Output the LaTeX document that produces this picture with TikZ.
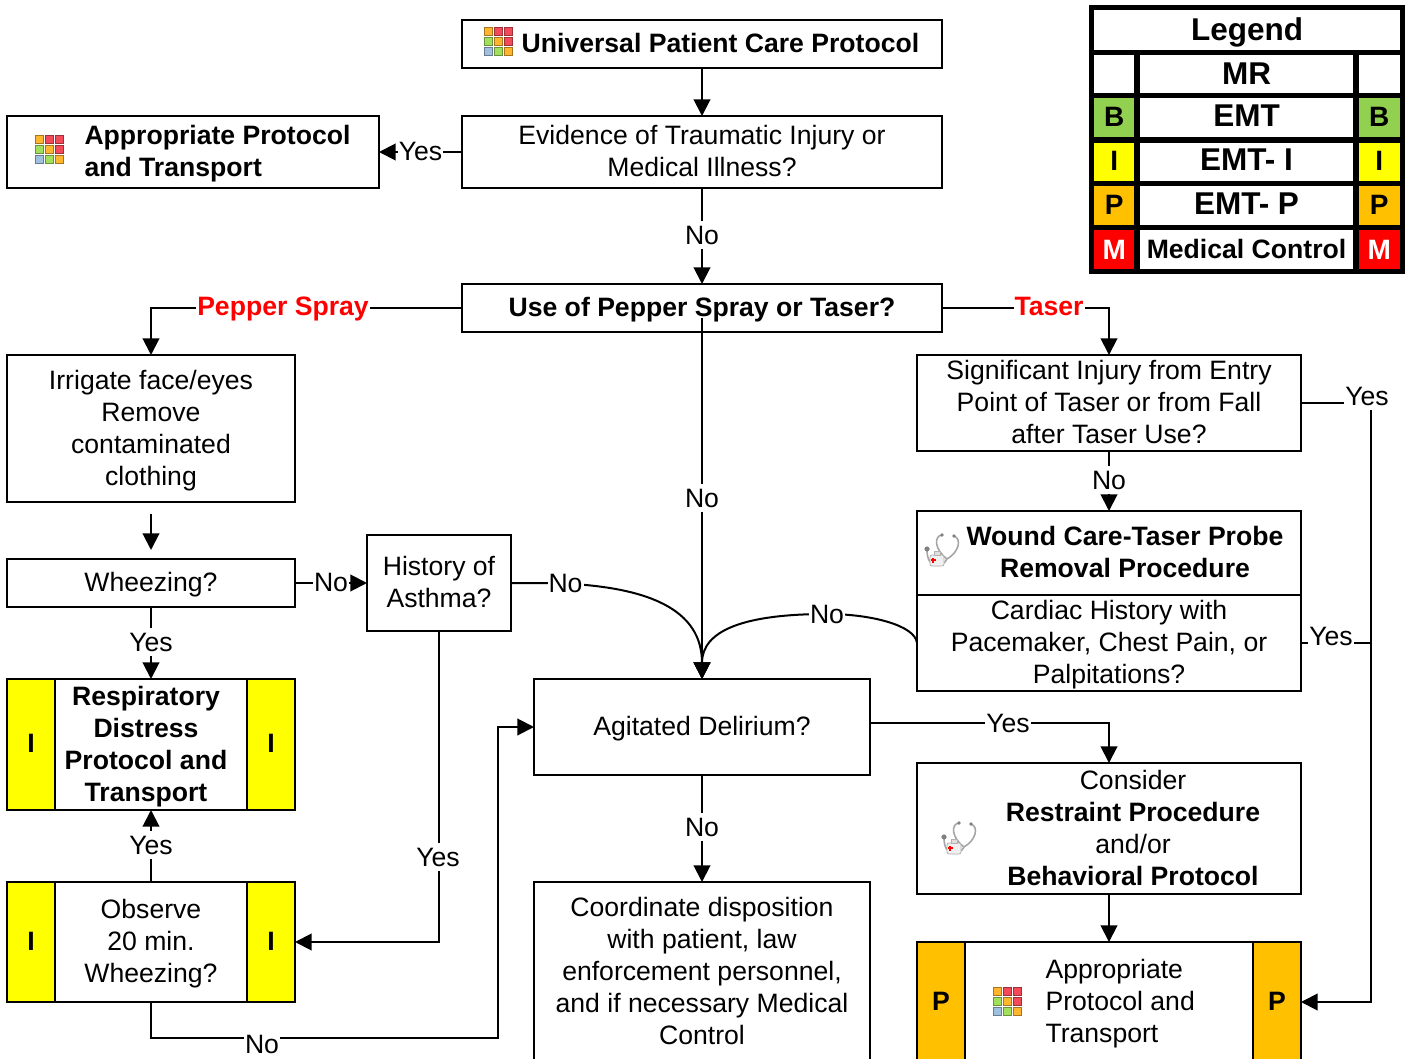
\documentclass[tikz,border=0pt]{standalone}
\usepackage{fontspec}
\setmainfont{Liberation Sans}
\usetikzlibrary{arrows.meta}
\tikzstyle{line} = [draw, -{Triangle[length=8.3pt,width=8.3pt]}]
\definecolor{tagB}{HTML}{92D050}
\definecolor{tagI}{HTML}{FFFF00}
\definecolor{tagP}{HTML}{FFC000}
\definecolor{tagM}{HTML}{FF0000}
\definecolor{iconO}{HTML}{FFB52E}
\definecolor{iconR}{HTML}{F24A58}
\definecolor{iconG}{HTML}{A2E05C}
\definecolor{iconB}{HTML}{A0C0E0}
\begin{document}
\begin{tikzpicture}[x=0.5pt, y=-0.5pt, line width=1pt,
				box/.style = {draw, inner sep=0pt, outer sep=0pt, align=center, text depth=1pt,
					font=\fontsize{13.3}{16}\selectfont},
				boxtext/.style = {inner sep=0pt, align=center, text depth=1pt,
					font=\fontsize{13.3}{16}\selectfont},
				boldtext/.style = {inner sep=0pt, align=center, text depth=1pt,
					font=\fontsize{13.3}{16}\selectfont\bfseries},
				tag/.style = {draw, inner sep=0pt, outer sep=0pt, minimum width=24pt, text depth=1pt,
					font=\fontsize{13.3}{16}\selectfont\bfseries},
				lab/.style = {fill=white, inner xsep=0.5pt, inner ysep=2.5pt,
					font=\fontsize{13.3}{16}\selectfont},
				redlab/.style = {lab, text=red, text depth=0pt, font=\fontsize{13.3}{16}\selectfont\bfseries},
				legcell/.style = {draw, line width=2.75pt, inner sep=0pt, outer sep=0pt,
					minimum height=22pt, font=\fontsize{15.75}{18}\selectfont\bfseries},
				gridicon/.pic = {
					\foreach \col/\row/\tint in {0/0/iconO, 1/0/iconR, 2/0/iconR,
						0/1/iconG, 1/1/iconO, 2/1/iconR,
						0/2/iconB, 1/2/iconG, 2/2/iconO}
						\draw[draw=\tint!65!black, fill=\tint, line width=0.5pt]
							(\col*10-14,\row*10-14) rectangle ++(8,8);
				},
				scopeicon/.pic = {
					% tubing
					\draw[gray!70, line width=0.8pt] (-1,-17) .. controls (-9,-16) and (-9,-3) .. (4,7);
					\draw[gray!70, line width=0.8pt] (11,-16) .. controls (19,-13) and (16,0) .. (4,7);
					\draw[gray!70, line width=0.8pt] (4,7) .. controls (0,16) and (-16,18) .. (-16,-2);
					\fill[gray] (-1,-17) circle (1.8);
					\fill[gray] (11,-16) circle (1.8);
					\fill[gray] (-16,-3) circle (2.6);
					% bottle
					\draw[gray!60, fill=gray!12, line width=0.4pt, rounded corners=1pt] (-13,3) rectangle (1,14);
					\draw[gray!60, fill=gray!25, line width=0.4pt] (-9,-1) rectangle (-3,3);
					\fill[red] (-12.5,7.2) rectangle (-7.5,8.8);
					\fill[red] (-10.8,5.5) rectangle (-9.2,10.5);
				}]

				\useasboundingbox (0,0) rectangle (1409,1059);

				% Top of the chart
				\node[box, minimum width=240pt, minimum height=24pt] (care) at (702,44) {};
				\pic at (498,42) {gridicon};
				\node[boldtext] (careText) at (720.5,44) {Universal Patient Care Protocol};
				\node[box, minimum width=240pt, minimum height=36pt] (evidence) at (702,152)
					{Evidence of Traumatic Injury or\\Medical Illness?};
				\node[box, minimum width=186pt, minimum height=36pt] (approp) at (193,152) {};
				\pic at (49,150) {gridicon};
				\node[boldtext, anchor=west, align=left] (appropText) at (83.5,152)
					{Appropriate Protocol\\and Transport};
				\node[box, minimum width=240pt, minimum height=24pt] (spray) at (702,308)
					{\bfseries Use of Pepper Spray or Taser?};

				% Left column
				\node[box, minimum width=144pt, minimum height=73.5pt] (irrigate) at (151,428.5)
					{Irrigate face/eyes\\Remove\\contaminated\\clothing};
				\coordinate (irrigateEnd) at (151,514);
				\coordinate (wheezeStart) at (151,550);
				\node[box, minimum width=144pt, minimum height=24pt] (wheezing) at (151,583) {Wheezing?};
				\node[box, minimum width=72pt, minimum height=48pt] (asthma) at (439,583)
					{History of\\Asthma?};
				\node[box, minimum width=144pt, minimum height=65.5pt] (resp) at (151,744.5) {};
				\node[tag, fill=tagI, minimum height=65.5pt] (respL) at (31,744.5) {I};
				\node[tag, fill=tagI, minimum height=65.5pt] (respR) at (271,744.5) {I};
				\node[boldtext] (respText) at (146,744.5)
					{Respiratory\\Distress\\Protocol and\\Transport};
				\node[box, minimum width=144pt, minimum height=60pt] (observe) at (151,942)
					{Observe\\20 min.\\Wheezing?};
				\node[tag, fill=tagI, minimum height=60pt] (observeL) at (31,942) {I};
				\node[tag, fill=tagI, minimum height=60pt] (observeR) at (271,942) {I};

				% Middle column
				\node[box, minimum width=168pt, minimum height=48pt] (delirium) at (702,727)
					{Agitated Delirium?};
				\node[box, minimum width=168pt, minimum height=90pt] (dispo) at (702,972)
					{Coordinate disposition\\with patient, law\\enforcement personnel,\\and if necessary Medical\\Control};

				% Right column
				\node[box, minimum width=192pt, minimum height=48pt] (injury) at (1109,403)
					{Significant Injury from Entry\\Point of Taser or from Fall\\after Taser Use?};
				\node[box, minimum width=192pt, minimum height=42pt] (wound) at (1109,553) {};
				\pic at (943,552) {scopeicon};
				\node[boldtext] (woundText) at (1125,553)
					{Wound Care-Taser Probe\\Removal Procedure};
				\node[box, minimum width=192pt, minimum height=48pt] (cardiac) at (1109,643)
					{Cardiac History with\\Pacemaker, Chest Pain, or\\Palpitations?};
				\node[box, minimum width=192pt, minimum height=65.5pt] (restraint) at (1109,828.5) {};
				\pic at (960,840) {scopeicon};
				\node[boxtext] (restraintText) at (1133,828.5)
					{Consider\\\textbf{Restraint Procedure}\\and/or\\\textbf{Behavioral Protocol}};
				\node[box, minimum width=192pt, minimum height=60pt] (transport) at (1109,1002) {};
				\node[tag, fill=tagP, minimum height=60pt] (transportL) at (941,1002) {P};
				\node[tag, fill=tagP, minimum height=60pt] (transportR) at (1277,1002) {P};
				\pic at (1007,1001) {gridicon};
				\node[boxtext, anchor=west, align=left] (transportText) at (1044.5,1002)
					{Appropriate\\Protocol and\\Transport};

				% Connectors
				\path[line] (care) -- (evidence);
				\path[line] (evidence) -- (approp);
				\path[line] (evidence) -- (spray);
				\path[line] (spray.west) -| (irrigate.north);
				\path[line] (spray.east) -| (injury.north);
				\path[line] ([yshift=-5pt]spray.center) -- (delirium.north);
				\path[line] (irrigateEnd) -- (wheezeStart);
				\path[line] (wheezing) -- (asthma);
				\path[line] (wheezing) -- (resp);
				\path[line] (asthma.south) |- (observe.east);
				\path[line] (observe) -- (resp);
				\coordinate (bendNo) at (498,1038);
				\path[line] (observe.south) |- (bendNo) |- (delirium.west);
				\path[line] (asthma.east) -- (548,583) .. controls (650,585) and (702,610) .. (delirium.north);
				\path[line] (cardiac.west) .. controls (915,625) and (870,614) .. (827,614)
					.. controls (745,614) and (702,630) .. (delirium.north);
				\path[line] ([yshift=2pt]delirium.east) -| (restraint.north);
				\path[line] (delirium) -- (dispo);
				\path[line] (injury) -- (wound);
				\path[line] (restraint) -- (transport);
				\coordinate (railTop) at (1371,403);
				\path[line] (injury.east) -- (railTop) |- (transport.east);
				\draw (cardiac.east) -- (cardiac.east -| railTop);

				% Connector labels
				\node[lab] (yesApprop) at (420.5,151) {Yes};
				\node[lab] (noSpray) at (702,235) {No};
				\node[redlab] (pepperLab) at (283,306) {Pepper Spray};
				\node[redlab] (taserLab) at (1049,306) {Taser};
				\node[lab] (noDelirium) at (702,498) {No};
				\node[lab] (yesInjury) at (1367,396) {Yes};
				\node[lab] (noInjury) at (1109,480) {No};
				\node[lab] (noWheezing) at (331,582) {No};
				\node[lab] (noAsthma) at (565.5,583) {No};
				\node[lab] (noCardiac) at (827,614) {No};
				\node[lab] (yesCardiac) at (1331,636) {Yes};
				\node[lab] (yesWheezing) at (151,642) {Yes};
				\node[lab] (yesDelirium) at (1008,723) {Yes};
				\node[lab] (noDispo) at (702,827) {No};
				\node[lab] (yesObserve) at (151,845) {Yes};
				\node[lab] (yesAsthma) at (438,857) {Yes};
				\node[lab] (noObserve) at (262,1044) {No};

				% Legend
				\node[legcell, minimum width=155.5pt, minimum height=22.5pt] (legTitle) at (1247,30) {\raisebox{-1pt}[\height][\depth]{Legend}};
				\foreach \rowy/\rowh/\rowname/\rowtext/\rowtag/\rowfill/\rowink/\rowlift in {
					74/21.5/mr/MR//white/black/0.25pt,
					117.75/22.25/emt/EMT/B/tagB/black/1.25pt,
					161.75/21.75/emti/EMT- I/I/tagI/black/1.25pt,
					205.5/22/emtp/EMT- P/P/tagP/black/0.75pt} {
					\node[legcell, fill=\rowfill, text=\rowink, minimum width=22.75pt, minimum height=\rowh pt, font=\fontsize{14}{16}\selectfont\bfseries] (\rowname L) at (1114.25,\rowy) {\raisebox{0.5pt}[\height][\depth]{\rowtag}};
					\node[legcell, minimum width=109.5pt, minimum height=\rowh pt] (\rowname) at (1246.5,\rowy) {\raisebox{\rowlift}[\height][\depth]{\rowtext}};
					\node[legcell, fill=\rowfill, text=\rowink, minimum width=23.25pt, minimum height=\rowh pt, font=\fontsize{14}{16}\selectfont\bfseries] (\rowname R) at (1379.25,\rowy) {\raisebox{0.5pt}[\height][\depth]{\rowtag}};
				}
				\node[legcell, fill=tagM, text=white, minimum width=22.75pt, font=\fontsize{14}{16}\selectfont\bfseries] (mcL) at (1114.25,249.5) {M};
				\node[legcell, minimum width=109.5pt, font=\fontsize{13.3}{16}\selectfont\bfseries] (mc) at (1246.5,249.5) {\raisebox{0.5pt}[\height][\depth]{Medical Control}};
				\node[legcell, fill=tagM, text=white, minimum width=23.25pt, font=\fontsize{14}{16}\selectfont\bfseries] (mcR) at (1379.25,249.5) {M};

			\end{tikzpicture}
\end{document}
